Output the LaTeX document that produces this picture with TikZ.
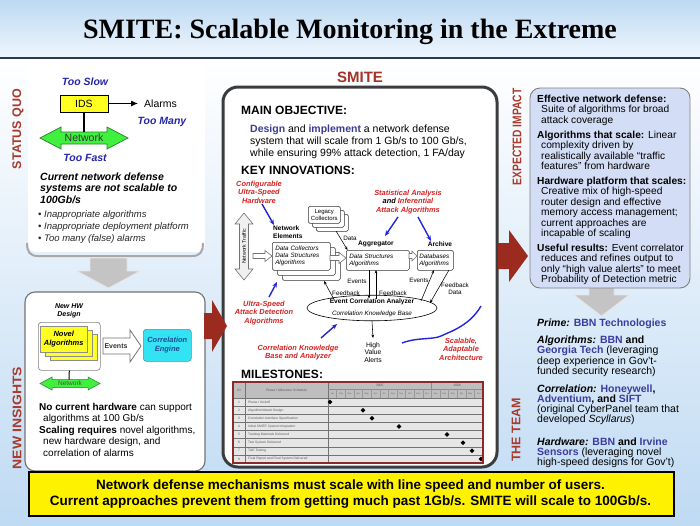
\documentclass[tikz,border=0pt]{standalone}
\usepackage{fontspec}
\usepackage{graphicx}
\setmainfont{Liberation Sans}
\newfontfamily\titlefont{Liberation Serif}
\usetikzlibrary{arrows.meta,shapes.geometric}
\newcommand\fsz[2]{\fontsize{#1}{#2}\selectfont}
\definecolor{cTitleTop}{HTML}{BDD9F2}
\definecolor{cTitleBot}{HTML}{EEF6FD}
\definecolor{cNavy}{HTML}{2B3A55}
\definecolor{cBodyBot}{HTML}{BFDAF3}
\definecolor{cSect}{HTML}{A83A2C}
\definecolor{cBlueTxt}{HTML}{2626A6}
\definecolor{cYellow}{HTML}{FFFF22}
\definecolor{cGreen}{HTML}{3FF03F}
\definecolor{cGreenD}{HTML}{2E7D2E}
\definecolor{cGrayArr}{HTML}{C4C4C4}
\definecolor{cCyan}{HTML}{33E3F3}
\definecolor{cCEtext}{HTML}{1C4E96}
\definecolor{cPanel}{HTML}{3C3C3C}
\definecolor{cSmite}{HTML}{A33328}
\definecolor{cDesign}{HTML}{3B3B94}
\definecolor{cRedLab}{HTML}{D42424}
\definecolor{cBlueArr}{HTML}{2424DC}
\definecolor{cDarkRed}{HTML}{9B2B1F}
\definecolor{cImpact}{HTML}{D3DEF6}
\definecolor{cComp}{HTML}{3B3BA0}
\definecolor{cTblBorder}{HTML}{8C2A2A}
\definecolor{cTblHead}{HTML}{BEBEBE}
\definecolor{cTblBody}{HTML}{E6E6E6}
\definecolor{cBracket}{HTML}{A8A8A8}
\begin{document}
\begin{tikzpicture}[x=1pt,y=-1pt,
  every node/.style={inner sep=0pt},
  sect/.style={font=\bfseries\fsz{12.5}{14}, text=cSect, rotate=90},
  bluetxt/.style={font=\bfseries\itshape\fsz{10.5}{12}, text=cBlueTxt},
  redlab/.style={font=\bfseries\itshape\fsz{7.4}{8.6}, text=cRedLab, align=center},
  bluearr/.style={draw=cBlueArr, line width=1.4, -{Stealth[length=5.5pt,width=4.5pt]}},
  thinarr/.style={draw=black, line width=0.55, -{Stealth[length=3.5pt,width=2.8pt]}},
  dbox/.style={draw=black!80, fill=white, line width=0.55, rounded corners=1.5},
  blockarr/.style={draw=black!55, fill=white, line width=0.6},
  lbl/.style={font=\fsz{6.3}{7}},
  grayarr/.style={draw=white!80!gray, fill=cGrayArr, line width=0.8},
  netarr/.style={draw=cGreenD, fill=cGreen, line width=0.7},
  tiny/.style={font=\fsz{3.3}{4}, text=black!65}
]
\useasboundingbox (0,0) rectangle (700,525);
% backgrounds
\shade[top color=cTitleTop, bottom color=cTitleBot] (0,0) rectangle (700,57);
\shade[top color=white, bottom color=cBodyBot] (0,59) rectangle (700,525);
\fill[cNavy] (0,56.5) rectangle (700,59);
\node[font=\titlefont\bfseries\fsz{28}{30}] (title) at (350,32) {SMITE: Scalable Monitoring in the Extreme};

% ===== LEFT: STATUS QUO =====
\node[sect] (sq) at (18,129) {STATUS QUO};
\fill[white, rounded corners=8] (28,64) rectangle (205,252);
\draw[cBracket, line width=2] (27,243) .. controls (27,252) and (30,256) .. (38,256) -- (192,256) .. controls (200,256) and (203,252) .. (203,243);
\node[bluetxt] (tooslow) at (85,82) {Too Slow};
\node[draw, fill=cYellow, line width=0.8, minimum width=48, minimum height=17, font=\fsz{10.5}{12}] (ids) at (84,103.5) {IDS};
\node[anchor=west, font=\fsz{10.5}{12}] (alarms) at (144,103.5) {Alarms};
\draw[line width=1, -{Latex[length=7pt,width=6pt]}] (ids.east) -- ([xshift=-6pt]alarms.west);
\node[bluetxt] (toomany) at (162,122) {Too Many};
\draw[netarr] (40,138) -- (61,127) -- (61,132) -- (107,132) -- (107,127) -- (128,138) -- (107,149) -- (107,144) -- (61,144) -- (61,149) -- cycle;
\node[font=\fsz{10.5}{12}, text=black!80] (net) at (84,138) {Network};
\coordinate (nettop) at (84,132);
\draw[line width=1.2] (ids.south) -- (nettop);
\node[bluetxt] (toofast) at (85,157.5) {Too Fast};
\node[anchor=north west, align=left, font=\bfseries\itshape\fsz{10.5}{11.3}] (cur) at (40,172.8) {Current network defense\\systems are not scalable to\\100Gb/s};
\node[anchor=north west, align=left, font=\itshape\fsz{9.5}{12}, text=black!85] (bul) at (38,210.2) {• Inappropriate algorithms\\• Inappropriate deployment platform\\• Too many (false) alarms};
\draw[grayarr] (90,258) -- (127,258) -- (127,271) -- (140,271) -- (108.5,288) -- (77,271) -- (90,271) -- cycle;

% ===== LEFT: NEW INSIGHTS =====
\node[sect] (ni) at (17,418) {\scalebox{1.12}[1]{NEW INSIGHTS}};
\draw[draw=black!55, fill=white, line width=1.1, rounded corners=10] (25,292) rectangle (205,471);
\node[font=\bfseries\itshape\fsz{7}{8}, align=center] (hwd) at (69,311) {New HW\\Design};
\node[draw=black!50, fill=white, rounded corners=3, line width=0.6, minimum width=62, minimum height=48, anchor=north west] (hw) at (38,322) {};
\node[draw=black!45, fill=cYellow, line width=0.5, minimum width=47, minimum height=26, anchor=north west] (cardc) at (50,334) {};
\node[draw=black!45, fill=cYellow, line width=0.5, minimum width=47, minimum height=26, anchor=north west] (cardb) at (45,330) {};
\node[draw=black!45, fill=cYellow, line width=0.5, minimum width=47, minimum height=26, anchor=north west, font=\bfseries\itshape\fsz{7.5}{8.6}, align=center] (carda) at (40,326) {Novel\\Algorithms};
\draw[netarr, line width=0.5] (40,383.5) -- (52,377) -- (52,379.5) -- (88,379.5) -- (88,377) -- (100,383.5) -- (88,390) -- (88,387.5) -- (52,387.5) -- (52,390) -- cycle;
\node[font=\fsz{6.5}{7}, text=black!70] (netsm) at (70,383.5) {Network};
\coordinate (netsmtop) at (69,379.5);
\draw[line width=1] (hw.south) -- (netsmtop);
\draw[blockarr, line width=0.8] (103,338) -- (130,338) -- (130,330) -- (141,346) -- (130,362) -- (130,354) -- (103,354) -- cycle;
\node[font=\bfseries\fsz{7}{8}, text=black!80] (ev) at (116,346) {Events};
\node[draw=black!50, fill=cCyan, rounded corners=3, line width=0.6, minimum width=48, minimum height=32, anchor=north west, font=\bfseries\itshape\fsz{7.5}{8.6}, text=cCEtext, align=center] (ce) at (143,329) {Correlation\\Engine};
\node[anchor=north west, align=left, font=\fsz{10}{10.8}] (nch) at (39,403) {\textbf{No current hardware} can support\\\hspace*{4pt}algorithms at 100 Gb/s};
\node[anchor=north west, align=left, font=\fsz{10}{11.4}] (scr) at (39,426) {\textbf{Scaling requires} novel algorithms,\\\hspace*{4pt}new hardware design, and\\\hspace*{4pt}correlation of alarms};

% ===== CENTER PANEL =====
\node[font=\bfseries\fsz{15}{17}, text=cSmite] (smite) at (360,77) {SMITE};
\draw[line width=3, draw=cPanel, fill=white, rounded corners=15] (223,87) rectangle (497,467);
\fill[cDarkRed] (204,313) -- (212,313) -- (212,300) -- (227,326) -- (212,352) -- (212,339) -- (204,339) -- cycle;
\node[anchor=west, font=\bfseries\fsz{12}{14}] (mainobj) at (241,110) {MAIN OBJECTIVE:};
\node[anchor=north west, align=left, font=\fsz{10.5}{12}] (obj) at (250,124.8) {\textcolor{cDesign}{\textbf{Design}} and \textcolor{cDesign}{\textbf{implement}} a network defense\\system that will scale from 1 Gb/s to 100 Gb/s,\\while ensuring 99\% attack detection, 1 FA/day};
\node[anchor=west, font=\bfseries\fsz{12}{14}] (keyinn) at (241,170) {KEY INNOVATIONS:};

% diagram
\node[redlab] (cfg) at (259,192) {Configurable\\Ultra-Speed\\Hardware};
\coordinate (cfgA) at (262,204);
\coordinate (cfgB) at (274,225);
\draw[bluearr] (cfgA) -- (cfgB);
\node[anchor=north west, align=left, font=\bfseries\fsz{6.6}{7.4}] (ne) at (273,226) {Network\\Elements};
% network traffic
\draw[blockarr, fill=black!6] (244,213) -- (253,224) -- (248.5,224) -- (248.5,269) -- (253,269) -- (244,280) -- (235,269) -- (239.5,269) -- (239.5,224) -- (235,224) -- cycle;
\node[rotate=90, font=\fsz{5.2}{6}] (ntl) at (244,246.5) {Network Traffic};
% data collectors
\node[dbox, minimum width=58, minimum height=28, anchor=north west] (dc3) at (282,252) {};
\node[dbox, minimum width=58, minimum height=28, anchor=north west] (dc2) at (277,247) {};
\node[dbox, minimum width=58, minimum height=28, anchor=north west, text width=52, inner sep=3, align=left, font=\itshape\fsz{6.3}{7}] (dc1) at (272,242) {Data Collectors\\Data Structures\\Algorithms};
% legacy
\node[dbox, minimum width=32, minimum height=17, anchor=north west] (lc3) at (316,214) {};
\node[dbox, minimum width=32, minimum height=17, anchor=north west] (lc2) at (312,210) {};
\node[dbox, minimum width=32, minimum height=17, anchor=north west, align=center, font=\fsz{6}{7}] (lc1) at (308,206) {Legacy\\Collectors};
% aggregator, archive
\node[font=\bfseries\fsz{6.6}{7}] (agglbl) at (376,244) {Aggregator};
\node[dbox, anchor=north west, minimum width=63, minimum height=20, text width=57, inner sep=3, align=left, font=\itshape\fsz{6.3}{7}] (agg) at (346,250) {Data Structures\\Algorithms};
\node[font=\bfseries\fsz{6.6}{7}] (archlbl) at (440,244) {Archive};
\node[dbox, anchor=north west, minimum width=36, minimum height=20, text width=32, inner sep=2, align=left, font=\itshape\fsz{6.3}{7}] (arch) at (417,250) {Databases\\Algorithms};
% block arrows
\draw[blockarr] (253,253.5) -- (265,253.5) -- (265,250.5) -- (272,256) -- (265,261.5) -- (265,258.5) -- (253,258.5) -- cycle;
\draw[blockarr] (330,255.5) -- (339,255.5) -- (339,252.5) -- (346,258) -- (339,263.5) -- (339,260.5) -- (330,260.5) -- cycle;
\draw[blockarr] (409,253.5) -- (412,253.5) -- (412,251) -- (417,256) -- (412,261) -- (412,258.5) -- (409,258.5) -- cycle;
% data arrow
\coordinate (dataA) at (336,231);
\draw[thinarr] (dataA) -- ([xshift=1.5pt]agg.north west);
\node[lbl] (datalbl) at (350,238) {Data};
% analyzer
\node[ellipse, draw, fill=white, line width=0.6, minimum width=130, minimum height=21, align=center] (eca) at (372,308) {{\bfseries\fsz{6.6}{7.2}Event Correlation Analyzer}\\{\itshape\fsz{6.3}{7.2}Correlation Knowledge Base}};
\coordinate (evA) at (369,270);
\coordinate (evB) at (369,298.5);
\draw[thinarr] (evA) -- (evB);
\coordinate (fbA) at (376,298.5);
\coordinate (fbB) at (376,270);
\draw[thinarr] (fbA) -- (fbB);
\node[lbl] (evlbl) at (357,281) {Events};
\node[lbl] (fblbl) at (393,293) {Feedback};
\coordinate (lfA) at (334,299.5);
\coordinate (lfB) at (324,281);
\draw[thinarr] (lfA) -- (lfB);
\node[lbl] (lfblbl) at (346,293) {Feedback};
\coordinate (reA) at (421,301);
\coordinate (reB) at (434,270);
\draw[thinarr] (reA) -- (reB);
\node[lbl] (revlbl) at (419,280) {Events};
\coordinate (fdA) at (449,270);
\coordinate (fdB) at (430,303);
\draw[thinarr] (fdA) -- (fdB);
\node[lbl, align=center] (fdlbl) at (455,289) {Feedback\\Data};
\coordinate (hvaTop) at (373,338);
\draw[thinarr] (eca.south) -- (hvaTop);
\node[font=\fsz{6.8}{7.6}, align=center] (hva) at (373,352.5) {High\\Value\\Alerts};
% red labels and blue arrows
\node[redlab] (usad) at (264,313) {Ultra-Speed\\Attack Detection\\Algorithms};
\coordinate (usA) at (269,297);
\coordinate (usB) at (277,282);
\draw[bluearr] (usA) -- (usB);
\node[redlab] (ckba) at (298,352.5) {Correlation Knowledge\\Base and Analyzer};
\coordinate (ckA) at (321,338);
\coordinate (ckB) at (337,324);
\draw[bluearr] (ckA) -- (ckB);
\node[redlab] (saia) at (408,202) {Statistical Analysis\\\textcolor{black}{and} Inferential\\Attack Algorithms};
\coordinate (saA) at (398,217);
\coordinate (saB) at (385,236);
\draw[bluearr] (saA) -- (saB);
\coordinate (saC) at (418,217);
\coordinate (saD) at (431,241);
\draw[bluearr] (saC) -- (saD);
\node[redlab] (saa) at (461,349) {Scalable,\\Adaptable\\Architecture};
\draw[cBlueArr, line width=1.4] (402,343) .. controls (418,337) and (432,340) .. (441,336) .. controls (452,331) and (470,325) .. (481,306);

% milestones
\node[anchor=west, font=\bfseries\fsz{12}{14}] (ms) at (241,374) {MILESTONES:};
\fill[cTblBody] (233,382) rectangle (483,463);
\fill[cTblHead] (233,382) rectangle (483,398);
\foreach \i in {0,...,7} \draw[black!55, line width=0.35] (233,{398+\i*8.125}) -- (483,{398+\i*8.125});
\draw[black!55, line width=0.35] (245,382) -- (245,463);
\draw[black!55, line width=0.35] (328,382) -- (328,463);
\draw[black!45, line width=0.3] (328,389) -- (483,389);
\foreach \m in {1,...,17} \draw[black!40, line width=0.25] ({328+\m*8.611},389) -- ({328+\m*8.611},398);
\draw[black!45, line width=0.3] (431.3,382) -- (431.3,389);
\foreach \mo [count=\m] in {Jan,Feb,Mar,Apr,May,Jun,Jul,Aug,Sep,Oct,Nov,Dec,Jan,Feb,Mar,Apr,May,Jun}
  \node[font=\fsz{2.2}{2.5}, text=black!60] (mo\m) at ({328+(\m-0.5)*8.611},393.5) {\mo};
\node[tiny] (yr1) at (379.7,385.5) {2005};
\node[tiny] (yr2) at (457.2,385.5) {2006};
\node[tiny] (idh) at (239,390) {ID};
\node[tiny] (phh) at (286.5,390) {Phase I Milestone Schedule};
\foreach \t [count=\i] in {{Phase I Kickoff},{Algorithm/Attack Design},{Correlation Interface Specification},{Initial SMITE System Integration},{Training Materials Delivered},{Test System Delivered},{T\&E Testing},{Final Report and Final System Delivered}} {
  \node[tiny] (rid\i) at (239,{398+(\i-0.5)*8.125}) {\i};
  \node[tiny, anchor=west] (rt\i) at (248,{398+(\i-0.5)*8.125}) {\t};
}
\foreach \xx [count=\i] in {330,363,372,399,447,463,472,481}
  \node[diamond, fill=black, minimum size=5] (dm\i) at (\xx,{398+(\i-0.5)*8.125}) {};
\draw[cTblBorder, line width=1.3] (233,382) rectangle (483,463);

% ===== RIGHT: EXPECTED IMPACT =====
\node[sect] (ei) at (517,137) {\scalebox{0.82}[1]{EXPECTED IMPACT}};
\draw[grayarr] (589,286) -- (614,286) -- (614,295) -- (629,295) -- (601.5,316) -- (574,295) -- (589,295) -- cycle;
\draw[draw=black!50, fill=cImpact, line width=0.9, rounded corners=10] (530,88) rectangle (690,288);
\fill[cDarkRed] (498,243) -- (509,243) -- (509,230) -- (528,256) -- (509,282) -- (509,269) -- (498,269) -- cycle;
\node[anchor=north west, align=left, font=\fsz{10.2}{10.4}] (imp1) at (537,95) {\textbf{Effective network defense:}\\\hspace*{4pt}Suite of algorithms for broad\\\hspace*{4pt}attack coverage};
\node[anchor=north west, align=left, font=\fsz{10.2}{10.4}] (imp2) at (537,131) {\textbf{Algorithms that scale:} Linear\\\hspace*{4pt}complexity driven by\\\hspace*{4pt}realistically available “traffic\\\hspace*{4pt}features” from hardware};
\node[anchor=north west, align=left, font=\fsz{10.2}{10.4}] (imp3) at (537,177) {\textbf{Hardware platform that scales:}\\\hspace*{4pt}Creative mix of high-speed\\\hspace*{4pt}router design and effective\\\hspace*{4pt}memory access management;\\\hspace*{4pt}current approaches are\\\hspace*{4pt}incapable of scaling};
\node[anchor=north west, align=left, font=\fsz{10.2}{10.4}] (imp4) at (537,244) {\textbf{Useful results:} Event correlator\\\hspace*{4pt}reduces and refines output to\\\hspace*{4pt}only “high value alerts” to meet\\\hspace*{4pt}Probability of Detection metric};

% ===== RIGHT: THE TEAM =====
\node[sect] (team) at (516,430) {THE TEAM};
\node[anchor=north west, align=left, font=\fsz{10.5}{9.8}] (tm1) at (537,319) {\textbf{\textit{Prime:}} \textcolor{cComp}{\textbf{BBN Technologies}}};
\node[anchor=north west, align=left, font=\fsz{10.5}{9.8}] (tm2) at (537,336) {\textbf{\textit{Algorithms:}} \textcolor{cComp}{\textbf{BBN}} \textbf{and}\\\textcolor{cComp}{\textbf{Georgia Tech}} (leveraging\\deep experience in Gov’t-\\funded security research)};
\node[anchor=north west, align=left, font=\fsz{10.5}{9.8}] (tm3) at (537,385) {\textbf{\textit{Correlation:}} \textcolor{cComp}{\textbf{Honeywell}}\textbf{,}\\\textcolor{cComp}{\textbf{Adventium}}\textbf{, and} \textcolor{cComp}{\textbf{SIFT}}\\(original CyberPanel team that\\developed \textit{Scyllarus})};
\node[anchor=north west, align=left, font=\fsz{10.5}{9.8}] (tm4) at (537,438) {\textbf{\textit{Hardware:}} \textcolor{cComp}{\textbf{BBN}} \textbf{and} \textcolor{cComp}{\textbf{Irvine}}\\\textcolor{cComp}{\textbf{Sensors}} (leveraging novel\\high-speed designs for Gov’t)};

% ===== BANNER =====
\node[draw=black, fill=yellow, line width=1.5, minimum width=645, minimum height=44, anchor=north west] (banner) at (28,471) {};
\node[font=\bfseries\fsz{13.5}{16}, align=center] (bantxt) at (350.5,494) {Network defense mechanisms must scale with line speed and number of users.\\Current approaches prevent them from getting much past 1Gb/s. SMITE will scale to 100Gb/s.};
\end{tikzpicture}
\end{document}
